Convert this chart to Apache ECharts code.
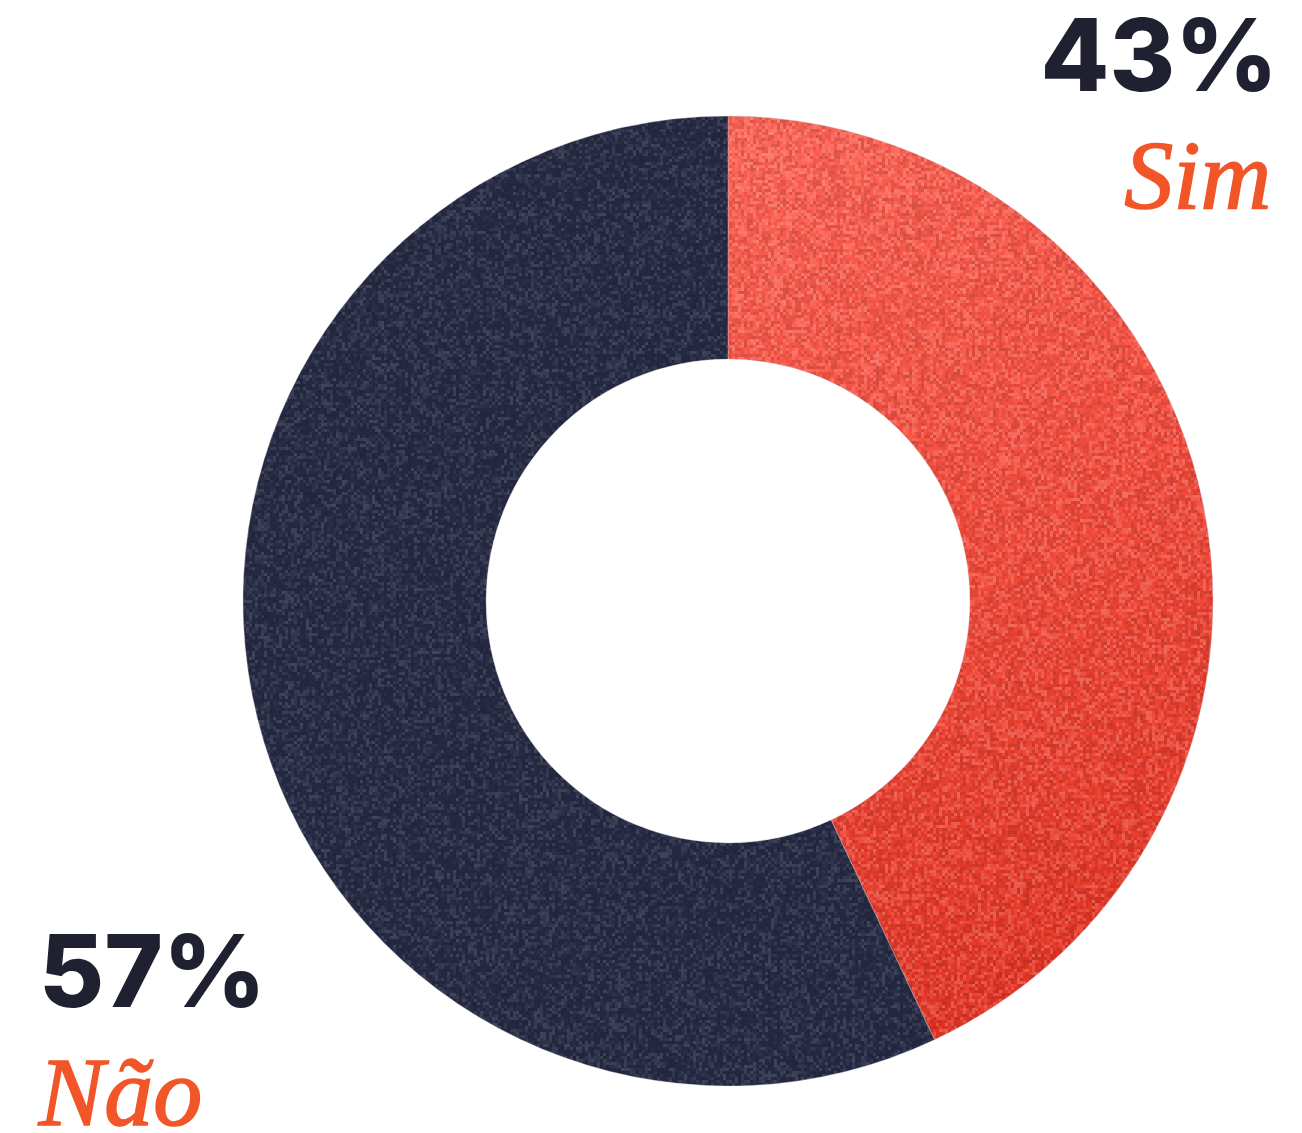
<!DOCTYPE html>
<html>
<head>
<meta charset="utf-8">
<script src="https://cdn.jsdelivr.net/npm/echarts@6/dist/echarts.min.js"></script>
<style>
  html, body { margin: 0; padding: 0; background: #ffffff; }
  #chart { width: 1302px; height: 1133px; }
</style>
</head>
<body>
<div id="chart"></div>
<script>
// Survey answers (percent of respondents)
const categories = ['Sim', 'Não'];
const values = [43, 57];

const W = 1302, H = 1133;

// Small deterministic generator for the grain texture
function mulberry32(a) {
  return function () {
    a |= 0; a = a + 0x6D2B79F5 | 0;
    let t = Math.imul(a ^ a >>> 15, 1 | a);
    t = t + Math.imul(t ^ t >>> 7, 61 | t) ^ t;
    return ((t ^ t >>> 14) >>> 0) / 4294967296;
  };
}

// Builds a full-size grainy fill: a base gradient with speckled lighter/darker cells
function grainFill(stops, from, to, amount, lightBias, seed) {
  const c = document.createElement('canvas');
  c.width = W; c.height = H;
  const ctx = c.getContext('2d');
  const g = ctx.createLinearGradient(from[0], from[1], to[0], to[1]);
  stops.forEach(s => g.addColorStop(s[0], s[1]));
  ctx.fillStyle = g;
  ctx.fillRect(0, 0, W, H);
  const rnd = mulberry32(seed);
  const cell = 3;
  for (let y = 0; y < H; y += cell) {
    for (let x = 0; x < W; x += cell) {
      const r = rnd();
      const a = (rnd() * amount);
      if (r < lightBias) {
        ctx.fillStyle = 'rgba(255,255,255,' + a.toFixed(3) + ')';
      } else {
        ctx.fillStyle = 'rgba(0,0,0,' + (a * 0.7).toFixed(3) + ')';
      }
      ctx.fillRect(x, y, cell, cell);
    }
  }
  return c;
}

const redCanvas = grainFill(
  [[0, '#fc6254'], [0.5, '#f24b3c'], [1, '#e23424']],
  [760, 140], [1120, 980], 0.2, 0.5, 7
);
const navyCanvas = grainFill(
  [[0, '#262a43'], [1, '#252942']],
  [0, 0], [W, H], 0.13, 0.5, 13
);

const fills = [redCanvas, navyCanvas];

const chart = echarts.init(document.getElementById('chart'), null, { renderer: 'canvas', width: W, height: H });

const pctFont = '800 100px Inter';
const nameFont = 'italic 400 98px "Liberation Serif"';

chart.setOption({
  animation: false,
  backgroundColor: '#ffffff',
  series: [{
    type: 'pie',
    center: [728, 601],
    radius: [242, 485],
    startAngle: 90,
    clockwise: true,
    label: { show: false },
    labelLine: { show: false },
    emphasis: { disabled: true },
    itemStyle: { borderColor: 'rgba(200,200,210,0.6)', borderWidth: 0.6 },
    data: categories.map((name, i) => ({
      name: name,
      value: values[i],
      itemStyle: { color: { image: fills[i], repeat: 'no-repeat' } }
    }))
  }],
  graphic: [
    {
      type: 'text', right: 24, top: 11,
      style: { text: values[0] + '%', font: pctFont, fill: '#1f2130' }
    },
    {
      type: 'text', right: 30, top: 132,
      style: {
        text: categories[0], font: nameFont, fill: '#f15528',
        stroke: '#f15528', lineWidth: 1.6
      }
    },
    {
      type: 'text', left: 39, top: 927,
      style: { text: values[1] + '%', font: pctFont, fill: '#1f2130' }
    },
    {
      type: 'text', left: 38, top: 1049,
      style: {
        text: categories[1], font: nameFont, fill: '#f15528',
        stroke: '#f15528', lineWidth: 1.6
      }
    }
  ]
});
</script>
</body>
</html>
